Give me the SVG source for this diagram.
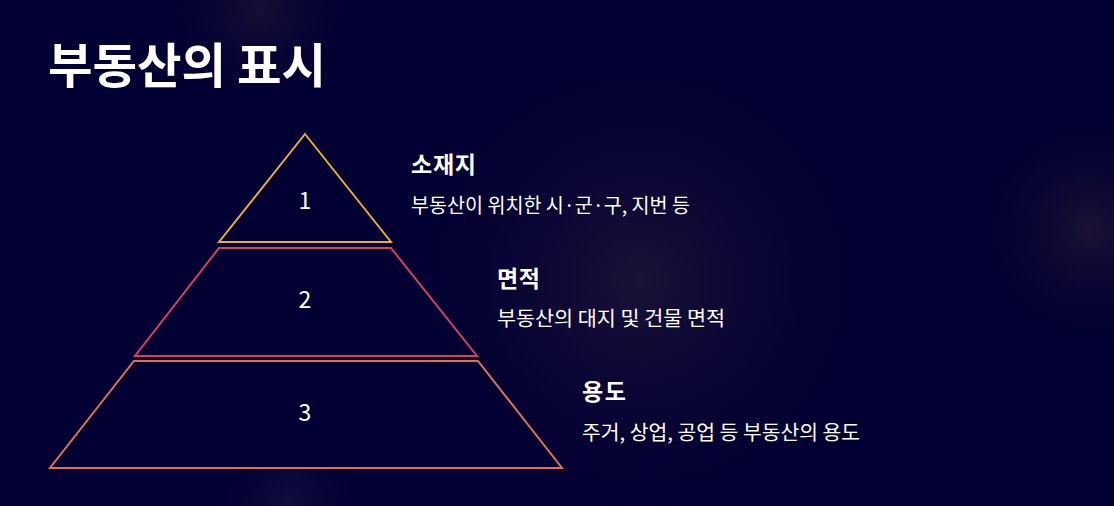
<svg xmlns="http://www.w3.org/2000/svg" width="1114" height="506" viewBox="0 0 1114 506">
  <defs>
    <radialGradient id="g1" cx="640" cy="280" r="260" gradientUnits="userSpaceOnUse">
      <stop offset="0" stop-color="#1e1438" stop-opacity="0.9"/>
      <stop offset="1" stop-color="#020032" stop-opacity="0"/>
    </radialGradient>
    <radialGradient id="g2" cx="1090" cy="230" r="130" gradientUnits="userSpaceOnUse">
      <stop offset="0" stop-color="#1e1434" stop-opacity="0.9"/>
      <stop offset="1" stop-color="#020032" stop-opacity="0"/>
    </radialGradient>
    <radialGradient id="g3" cx="260" cy="10" r="110" gradientUnits="userSpaceOnUse">
      <stop offset="0" stop-color="#1a1436" stop-opacity="0.8"/>
      <stop offset="1" stop-color="#020032" stop-opacity="0"/>
    </radialGradient>
    <radialGradient id="g4" cx="290" cy="500" r="90" gradientUnits="userSpaceOnUse">
      <stop offset="0" stop-color="#141440" stop-opacity="0.7"/>
      <stop offset="1" stop-color="#020032" stop-opacity="0"/>
    </radialGradient>
  </defs>
  <style>
    text { font-family: "Noto Sans CJK KR", "Noto Sans", sans-serif; fill: #ffffff; }
    .title { font-size: 48px; font-weight: 700; }
    .num { font-size: 23px; text-anchor: middle; }
    .head { font-size: 23px; font-weight: 700; }
    .desc { font-size: 20px; }
    .shape { fill: #020032; stroke-width: 2; stroke-linejoin: miter; }
  </style>
  <rect width="1114" height="506" fill="#020032"/>
  <rect width="1114" height="506" fill="url(#g1)"/>
  <rect width="1114" height="506" fill="url(#g2)"/>
  <rect width="1114" height="506" fill="url(#g3)"/>
  <rect width="1114" height="506" fill="url(#g4)"/>

  <text class="title" x="48" y="83" textLength="278" lengthAdjust="spacingAndGlyphs">부동산의 표시</text>

  <g id="level1">
    <polygon class="shape" points="305,134 391,242 219,242" stroke="#E8AC30"/>
    <text class="num" x="305" y="209">1</text>
    <text class="head" x="411" y="173" textLength="65">소재지</text>
    <text class="desc" x="411" y="213" textLength="279" lengthAdjust="spacingAndGlyphs">부동산이 위치한 시·군·구, 지번 등</text>
  </g>
  <g id="level2">
    <polygon class="shape" points="219,248 391,248 477,356 135,356" stroke="#D8405A"/>
    <text class="num" x="305" y="308">2</text>
    <text class="head" x="497" y="287" textLength="43">면적</text>
    <text class="desc" x="497" y="326" textLength="228" lengthAdjust="spacingAndGlyphs">부동산의 대지 및 건물 면적</text>
  </g>
  <g id="level3">
    <polygon class="shape" points="134,361 478,361 562,468 50,468" stroke="#E07050"/>
    <text class="num" x="305" y="421">3</text>
    <text class="head" x="582" y="400" textLength="44">용도</text>
    <text class="desc" x="582" y="440" textLength="278" lengthAdjust="spacingAndGlyphs">주거, 상업, 공업 등 부동산의 용도</text>
  </g>
  <g id="connectors"/>
</svg>
